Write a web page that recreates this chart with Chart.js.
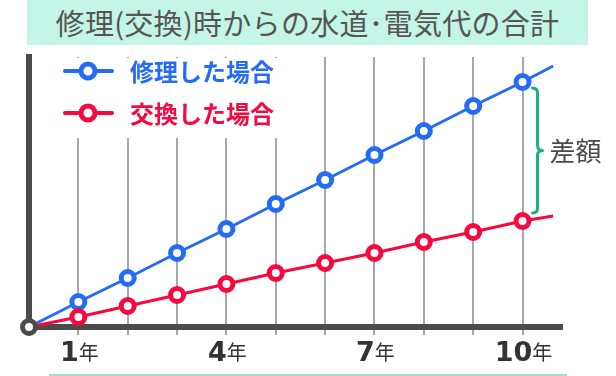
<!DOCTYPE html>
<html lang="ja">
<head>
<meta charset="utf-8">
<script src="https://cdn.jsdelivr.net/npm/chart.js@4.4.1/dist/chart.umd.min.js"></script>
<style>
  html, body { margin: 0; padding: 0; background: #fff; }
  #wrap { position: relative; width: 616px; height: 376px; overflow: hidden; }
  #title {
    position: absolute; left: 27px; top: 0; width: 561px; height: 45px;
    background: #c4f5e6; color: #555; font-family: "Noto Sans CJK JP", sans-serif;
    font-size: 29px; line-height: 44px; text-align: center; z-index: 2; white-space: nowrap;
    letter-spacing: 0.3px;
  }
  #bottomLine { position: absolute; left: 49px; top: 374px; width: 518px; height: 2px; background: #a8dcca; }
  canvas { position: absolute; left: 0; top: 0; }
</style>
</head>
<body>
<div id="wrap">
  <div id="title">修理(交換)時からの水道･電気代の合計</div>
  <canvas id="c" width="616" height="376"></canvas>
  <div id="bottomLine"></div>
</div>
<script>
// ---- data ----
const years = [0, 1, 2, 3, 4, 5, 6, 7, 8, 9, 10];
const repairCost = [0, 25, 49, 74, 98, 123, 147, 172, 196, 221, 245];
const replaceCost = [0, 10, 21, 32, 43, 54, 64, 74, 85, 95, 106];
const lineEndYear = 10.62;
const repairEnd = 261;
const replaceEnd = 111;
const tickYears = [1, 4, 7, 10];
const tickNumbers = ['1', '4', '7', '10'];
const tickUnit = '年';
const seriesNames = ['修理した場合', '交換した場合'];
const diffLabel = '差額';

const BLUE = '#246cf6';
const RED = '#f7083f';
const DARK = '#4b4b4b';
const GREEN = '#1aaf87';

function buildPoints(vals, endVal) {
  const pts = years.map((x, i) => ({ x: x, y: vals[i] }));
  pts.push({ x: lineEndYear, y: endVal });
  return pts;
}
function radii(n) {
  const r = [];
  for (let i = 0; i < n; i++) r.push(i === 0 || i === n - 1 ? 0 : 6.5);
  return r;
}

const decor = {
  id: 'decor',
  beforeDatasetsDraw(chart) {
    const ctx = chart.ctx;
    ctx.save();
    ctx.fillStyle = '#fff';
    ctx.fillRect(40, 58, 262, 80);
    ctx.restore();
  },
  afterDraw(chart) {
    const ctx = chart.ctx;
    const xs = chart.scales.x, ys = chart.scales.y;
    ctx.save();
    // legend
    const items = [{ y: 71, c: BLUE, t: seriesNames[0] }, { y: 113, c: RED, t: seriesNames[1] }];
    items.forEach(it => {
      ctx.strokeStyle = it.c; ctx.lineWidth = 4; ctx.lineCap = 'round';
      ctx.beginPath(); ctx.moveTo(65, it.y); ctx.lineTo(112, it.y); ctx.stroke();
      ctx.beginPath(); ctx.arc(88, it.y, 7, 0, Math.PI * 2);
      ctx.fillStyle = '#fff'; ctx.fill();
      ctx.lineWidth = 5; ctx.stroke();
      ctx.fillStyle = it.c;
      ctx.font = 'bold 24px "Noto Sans CJK JP", sans-serif';
      ctx.textBaseline = 'middle'; ctx.textAlign = 'left';
      ctx.fillText(it.t, 130, it.y + 1);
    });
    // x tick labels
    ctx.textBaseline = 'alphabetic';
    tickYears.forEach((v, i) => {
      const px = xs.getPixelForValue(v);
      const numFont = 'bold 27px "DejaVu Sans", sans-serif';
      const unitFont = '20px "Noto Sans CJK JP", sans-serif';
      ctx.font = numFont; const w1 = ctx.measureText(tickNumbers[i]).width;
      ctx.font = unitFont; const w2 = ctx.measureText(tickUnit).width;
      const gap = 0;
      let sx = px - (w1 + gap + w2) / 2 + 1;
      ctx.fillStyle = '#333';
      ctx.font = numFont; ctx.fillText(tickNumbers[i], sx, 361);
      ctx.font = unitFont; ctx.fillText(tickUnit, sx + w1 + gap, 360);
    });
    // bracket between the two lines at year 10
    const bx = xs.getPixelForValue(10) + 10;
    const yTop = ys.getPixelForValue(repairCost[10]) + 6;
    const yBot = ys.getPixelForValue(replaceCost[10]) - 8;
    const yMid = (yTop + yBot) / 2;
    const r = 5, tip = 5;
    ctx.strokeStyle = GREEN; ctx.lineWidth = 3; ctx.lineCap = 'round'; ctx.lineJoin = 'round';
    ctx.beginPath();
    ctx.moveTo(bx, yTop);
    ctx.quadraticCurveTo(bx + r, yTop, bx + r, yTop + r);
    ctx.lineTo(bx + r, yMid - r);
    ctx.quadraticCurveTo(bx + r, yMid, bx + r + tip, yMid);
    ctx.quadraticCurveTo(bx + r, yMid, bx + r, yMid + r);
    ctx.lineTo(bx + r, yBot - r);
    ctx.quadraticCurveTo(bx + r, yBot, bx, yBot);
    ctx.stroke();
    ctx.fillStyle = '#4a4a4a';
    ctx.font = '26px "Noto Sans CJK JP", sans-serif';
    ctx.textBaseline = 'middle'; ctx.textAlign = 'left';
    ctx.fillText(diffLabel, bx + r + tip + 7, yMid + 1);
    ctx.restore();
  }
};

new Chart(document.getElementById('c'), {
  type: 'line',
  data: {
    datasets: [
      {
        label: 'origin', data: [{ x: 0, y: 0 }], order: 0,
        pointRadius: 6.5, pointBorderWidth: 5, pointBorderColor: DARK,
        pointBackgroundColor: '#fff', showLine: false, clip: false
      },
      {
        label: seriesNames[1], data: buildPoints(replaceCost, replaceEnd), order: 1,
        borderColor: RED, borderWidth: 3, pointRadius: radii(12), pointBorderWidth: 5,
        pointBorderColor: RED, pointBackgroundColor: '#fff', tension: 0, clip: false
      },
      {
        label: seriesNames[0], data: buildPoints(repairCost, repairEnd), order: 2,
        borderColor: BLUE, borderWidth: 3, pointRadius: radii(12), pointBorderWidth: 5,
        pointBorderColor: BLUE, pointBackgroundColor: '#fff', tension: 0, clip: false
      }
    ]
  },
  options: {
    responsive: false, animation: false, devicePixelRatio: 1,
    layout: { padding: { top: 57, right: 54, left: 0, bottom: 0 } },
    plugins: { legend: { display: false }, tooltip: { enabled: false }, title: { display: false } },
    scales: {
      x: {
        type: 'linear', min: 0, max: 10.8,
        afterBuildTicks(s) { s.ticks = years.slice(1).map(v => ({ value: v })); },
        afterFit(s) { s.height = 49; },
        ticks: { display: false },
        grid: { color: '#a8a8a8', lineWidth: 2, tickLength: 8, drawTicks: true },
        border: { color: DARK, width: 6 }
      },
      y: {
        type: 'linear', min: 0, max: 270,
        afterFit(s) { s.width = 29; },
        ticks: { display: false },
        grid: { display: false },
        border: { color: DARK, width: 6 }
      }
    }
  },
  plugins: [decor]
});
</script>
</body>
</html>
